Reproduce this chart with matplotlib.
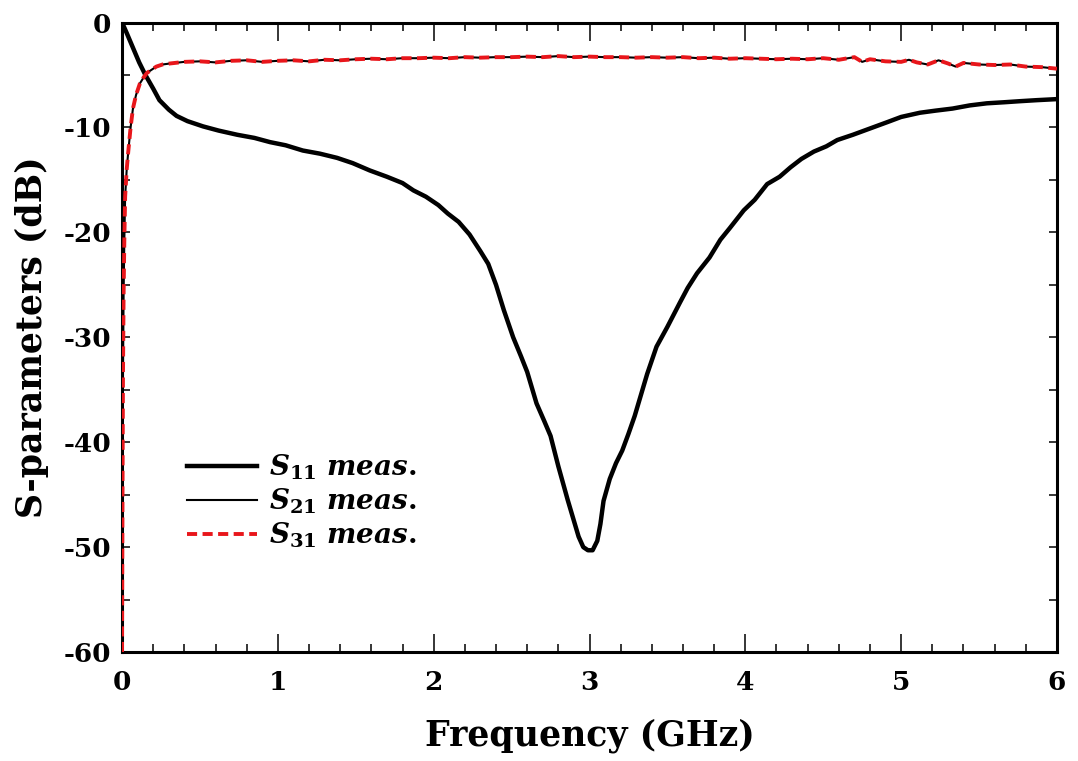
import matplotlib
matplotlib.use("Agg")
import matplotlib.pyplot as plt
from matplotlib.ticker import MultipleLocator

# ---------------- data ----------------
s11_freq = [0.0, 0.03, 0.07, 0.11, 0.15, 0.2, 0.24, 0.3, 0.35, 0.42, 0.52, 0.62, 0.74,
            0.85, 0.95, 1.05, 1.16, 1.27, 1.38, 1.48, 1.59, 1.7, 1.8, 1.87, 1.95, 2.03,
            2.09, 2.16, 2.23, 2.3, 2.35, 2.4, 2.45, 2.51, 2.56, 2.6, 2.66, 2.71, 2.75,
            2.8, 2.86, 2.9, 2.93, 2.96, 2.99, 3.02, 3.05, 3.07, 3.09, 3.13, 3.17, 3.21,
            3.25, 3.29, 3.33, 3.37, 3.43, 3.5, 3.58, 3.63, 3.69, 3.77, 3.84, 3.9,
            3.99, 4.06, 4.14, 4.22, 4.29, 4.36, 4.44, 4.52, 4.59, 4.69, 4.8, 4.91, 5.0,
            5.12, 5.22, 5.33, 5.44, 5.55, 5.66, 5.76, 5.87, 6.0]
s11_db = [0.0, -1.0, -2.4, -3.8, -5.0, -6.3, -7.4, -8.3, -8.9, -9.4, -9.9, -10.3, -10.7,
          -11.0, -11.4, -11.7, -12.2, -12.5, -12.9, -13.4, -14.1, -14.7, -15.3, -16.0,
          -16.6, -17.4, -18.2, -19.0, -20.2, -21.8, -23.0, -25.0, -27.4, -30.0, -31.8,
          -33.3, -36.3, -38.0, -39.4, -42.3, -45.5, -47.5, -49.0, -50.0, -50.3, -50.3,
          -49.4, -47.8, -45.6, -43.5, -42.0, -40.8, -39.2, -37.5, -35.5, -33.5,
          -30.9, -29.0, -26.7, -25.3, -23.9, -22.4, -20.7, -19.6, -17.9, -16.9, -15.4,
          -14.7, -13.8, -13.0, -12.3, -11.8, -11.2, -10.7, -10.1, -9.5, -9.0, -8.6,
          -8.4, -8.2, -7.9, -7.7, -7.6, -7.5, -7.4, -7.3]

s21_freq = [0.0, 0.003, 0.006, 0.01, 0.015, 0.02, 0.03, 0.04, 0.055, 0.07, 0.09, 0.115,
            0.14, 0.16, 0.19, 0.22, 0.26, 0.31, 0.4, 0.5, 0.6, 0.7, 0.8, 0.9, 1.0, 1.1,
            1.2, 1.3, 1.4, 1.5, 1.6, 1.7, 1.8, 1.9, 2.0, 2.1, 2.2, 2.3, 2.4, 2.5, 2.6,
            2.7, 2.8, 2.9, 3.0, 3.1, 3.2, 3.3, 3.4, 3.5, 3.6, 3.7, 3.8, 3.9, 4.0, 4.1,
            4.2, 4.3, 4.4, 4.5, 4.6, 4.7, 4.75, 4.8, 4.9, 5.0, 5.05, 5.1, 5.17, 5.24,
            5.3, 5.35, 5.4, 5.5, 5.6, 5.7, 5.8, 5.9, 6.0]
s21_db = [-60.0, -45.0, -34.0, -26.0, -20.5, -16.6, -14.0, -12.3, -10.0, -8.2, -6.9,
          -5.8, -5.2, -4.8, -4.5, -4.2, -4.0, -3.9, -3.75, -3.7, -3.8, -3.65, -3.6,
          -3.75, -3.65, -3.6, -3.7, -3.55, -3.6, -3.5, -3.45, -3.5, -3.4, -3.4, -3.35,
          -3.4, -3.3, -3.35, -3.3, -3.3, -3.25, -3.3, -3.2, -3.3, -3.25, -3.3, -3.3,
          -3.35, -3.3, -3.35, -3.3, -3.4, -3.35, -3.45, -3.4, -3.45, -3.5, -3.45, -3.5,
          -3.4, -3.55, -3.3, -3.75, -3.5, -3.7, -3.75, -3.55, -3.8, -4.0, -3.6, -3.9,
          -4.2, -3.85, -4.0, -4.05, -4.0, -4.2, -4.25, -4.4]

s31_freq = list(s21_freq)
s31_db = list(s21_db)

x_ticks = [0, 1, 2, 3, 4, 5, 6]
y_ticks = [0, -10, -20, -30, -40, -50, -60]
labels = [r'$\mathit{S_{11}\ meas.}$', r'$\mathit{S_{21}\ meas.}$', r'$\mathit{S_{31}\ meas.}$']

# ---------------- style ----------------
plt.rcParams['font.family'] = ['DejaVu Serif']
plt.rcParams['font.weight'] = 'bold'
plt.rcParams['mathtext.fontset'] = 'dejavuserif'
plt.rcParams['axes.unicode_minus'] = False

fig = plt.figure(figsize=(10.78, 7.61), dpi=100)
ax = fig.add_axes([0.1132, 0.1432, 0.8673, 0.8272])

ax.plot(s11_freq, s11_db, color='black', lw=3.2, label=labels[0], zorder=3)
ax.plot(s21_freq, s21_db, color='black', lw=1.5, label=labels[1], zorder=4)
ax.plot(s31_freq, s31_db, color='#e8161b', lw=2.8, linestyle=(0, (2.6, 1.4)),
        label=labels[2], zorder=5)

ax.set_xlim(0, 6)
ax.set_ylim(-60, 0)
ax.set_xticks(x_ticks)
ax.set_yticks(y_ticks)
ax.xaxis.set_minor_locator(MultipleLocator(0.2))
ax.yaxis.set_minor_locator(MultipleLocator(5))

for s in ax.spines.values():
    s.set_linewidth(2.2)

ax.tick_params(axis='x', which='both', direction='in', top=True, bottom=True,
               labelsize=19, pad=13, width=1.1)
ax.tick_params(axis='x', which='major', length=13)
ax.tick_params(axis='x', which='minor', length=6)
ax.tick_params(axis='y', which='both', direction='in', left=True, right=True,
               labelsize=19, pad=8, width=1.1, length=6)
for lab in ax.get_xticklabels() + ax.get_yticklabels():
    lab.set_fontweight('bold')

ax.set_xlabel('Frequency (GHz)', fontsize=25, fontweight='bold', labelpad=17)
ax.set_ylabel('S-parameters (dB)', fontsize=25, fontweight='bold', labelpad=10)

leg = ax.legend(loc='upper left', bbox_to_anchor=(0.058, 0.335), frameon=False,
                fontsize=20, handlelength=2.5, handletextpad=0.45,
                labelspacing=0.17, borderaxespad=0.0)

fig.savefig('out.png', dpi=100)
